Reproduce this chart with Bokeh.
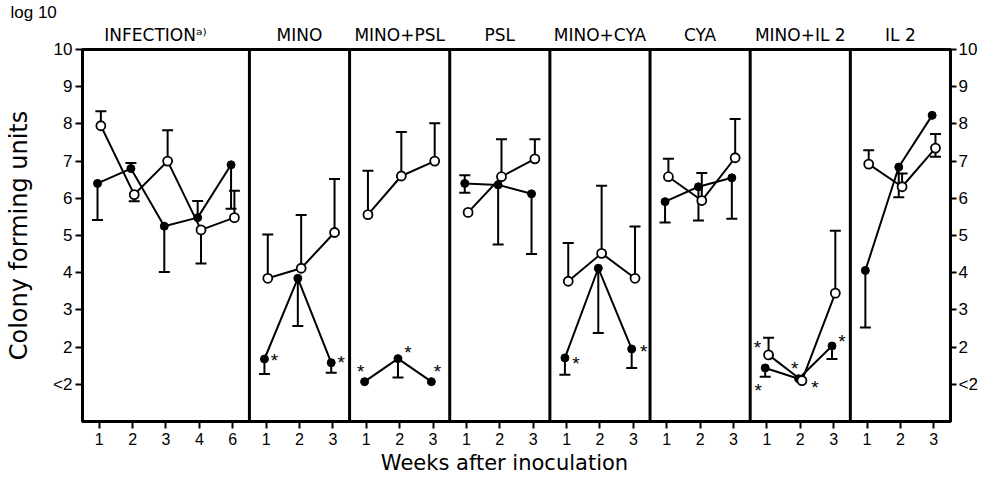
from bokeh.plotting import figure
from bokeh.layouts import column
from bokeh.models import LinearAxis, FixedTicker, Span, Range1d, ColumnDataSource
from bokeh.core.properties import value
from bokeh.embed import file_html
from bokeh.resources import INLINE

# ---------------- data ----------------
panels = ["INFECTION\u1d43\u207e", "MINO", "MINO+PSL", "PSL", "MINO+CYA", "CYA", "MINO+IL 2", "IL 2"]
weeks = [[1, 2, 3, 4, 6], [1, 2, 3], [1, 2, 3], [1, 2, 3], [1, 2, 3], [1, 2, 3], [1, 2, 3], [1, 2, 3]]

filled_mean = [[6.40, 6.80, 5.25, 5.48, 6.90], [1.68, 3.85, 1.58], [1.07, 1.69, 1.07],
               [6.40, 6.36, 6.12], [1.71, 4.12, 1.95], [5.91, 6.31, 6.55],
               [1.44, 1.15, 2.03], [4.06, 6.84, 8.23]]
filled_hi = [[None, 6.95, None, 5.93, None], [None, None, None], [None, None, None],
             [6.62, None, None], [None, None, None], [None, None, None],
             [None, None, None], [None, None, None]]
filled_lo = [[5.42, None, 4.02, None, 5.72], [1.28, 2.57, 1.31], [None, 1.18, None],
             [6.15, 4.76, 4.50], [1.26, 2.38, 1.44], [5.35, 5.40, 5.45],
             [1.20, None, 1.68], [2.53, 6.03, None]]

open_mean = [[7.95, 6.10, 7.00, 5.15, 5.48], [3.85, 4.12, 5.08], [5.56, 6.60, 7.00],
             [5.62, 6.58, 7.06], [3.77, 4.52, 3.85], [6.58, 5.94, 7.09],
             [1.79, 1.10, 3.45], [6.92, 6.31, 7.35]]
open_hi = [[8.34, None, 7.83, None, 6.20], [5.03, 5.55, 6.52], [6.74, 7.78, 8.02],
           [None, 7.59, 7.59], [4.80, 6.34, 5.24], [7.06, 6.68, 8.13],
           [2.25, None, 5.13], [7.29, 6.67, 7.73]]
open_lo = [[None, 5.92, None, 4.25, None], [None, None, None], [None, None, None],
           [None, None, None], [None, None, None], [None, None, None],
           [None, None, None], [None, None, 7.12]]

# significance asterisks: (panel index, week index, series)
star_marks = [(1, 0, "f"), (1, 2, "f"), (2, 0, "f"), (2, 1, "f"), (2, 2, "f"),
              (4, 0, "f"), (4, 2, "f"), (6, 0, "o"), (6, 0, "f"), (6, 1, "f"),
              (6, 1, "o"), (6, 2, "f")]
# screen offsets of each asterisk from its point (style)
star_offsets = [(10, -3), (10, -4), (-4, -14), (10, -10), (6, -14),
                (11, 2), (12, -1), (-11, -11), (-7, 19), (-4, -14),
                (13, 3), (10, -8)]

y_ticks = [1, 2, 3, 4, 5, 6, 7, 8, 9, 10]
y_tick_labels = ["<2", "2", "3", "4", "5", "6", "7", "8", "9", "10"]

y_title = "Colony forming units"
x_title = "Weeks after inoculation"
unit_title = "log 10"

# ---------------- layout ----------------
starts = []
s = 0
for w in weeks:
    starts.append(s)
    s += len(w)
total = s
DODGE = 0.05

TICKFONT = "Liberation Sans"
TEXTFONT = "DejaVu Sans"
W = 994
FL, FR = 82, 44                # frame left / right borders
MAIN_BT, FRAME_H, MAIN_BB = 47, 374, 30
MAIN_H = MAIN_BT + FRAME_H + MAIN_BB
BOT_H = 483 - MAIN_H
FW = W - FL - FR
pxu = FW / total               # pixels per x unit
xr = Range1d(0, total)


def px2x(px):
    return (px - FL) / pxu


# ---- main plot ----
p = figure(width=W, height=MAIN_H, x_range=xr, y_range=Range1d(0, 10),
           output_backend="svg", toolbar_location=None,
           min_border_left=FL, min_border_right=FR, min_border_top=MAIN_BT,
           min_border_bottom=MAIN_BB)
ax = p.below[0]
ay = p.left[0]
p.title.text = unit_title
p.title.align = "left"
p.title.offset = 10 - FL
p.title.standoff = 0
p.title.text_font = TICKFONT
p.title.text_font_size = "17px"
p.title.text_font_style = "normal"
p.title.text_color = "black"
p.xgrid.visible = False
p.ygrid.visible = False
p.outline_line_color = "black"
p.outline_line_width = 3
p.background_fill_color = "white"
p.border_fill_color = "white"

# bottom axis: weeks
xt = []
xl = {}
for st, w in zip(starts, weeks):
    for i, wk in enumerate(w):
        pos = st + i + 0.5
        xt.append(pos)
        xl[pos] = str(wk)
ax.ticker = FixedTicker(ticks=xt)
ax.major_label_overrides = xl
ax.minor_tick_line_color = None
ax.axis_line_width = 3
ax.major_tick_line_width = 2
ax.major_tick_out = 7
ax.major_tick_in = 0
ax.major_label_text_font = TICKFONT
ax.major_label_text_font_size = "16px"
ax.major_label_text_color = "black"
ax.major_label_standoff = 4

# panel titles on a top axis
title_pos = []
for k, (st, w) in enumerate(zip(starts, weeks)):
    if k == 0:
        title_pos.append(px2x(155))
    else:
        title_pos.append(st + len(w) / 2)
ta = LinearAxis(ticker=FixedTicker(ticks=title_pos),
                major_label_overrides={t: n for t, n in zip(title_pos, panels)})
ta.axis_line_color = None
ta.major_tick_line_color = None
ta.minor_tick_line_color = None
ta.major_tick_in = 0
ta.major_tick_out = 0
ta.major_label_standoff = 5
ta.major_label_text_font = TEXTFONT
ta.major_label_text_font_size = "17px"
ta.major_label_text_color = "black"
p.add_layout(ta, "above")

ylab = {t: l for t, l in zip(y_ticks, y_tick_labels)}
ay.ticker = FixedTicker(ticks=y_ticks)
ay.major_label_overrides = ylab
ay.minor_tick_line_color = None
ay.axis_line_width = 3
ay.major_tick_line_width = 2
ay.major_tick_out = 7
ay.major_tick_in = 0
ay.major_label_text_font = TICKFONT
ay.major_label_text_font_size = "17px"
ay.major_label_text_color = "black"
ay.major_label_standoff = 3
ay.axis_label = y_title
ay.axis_label_text_font = TEXTFONT
ay.axis_label_text_font_size = "24px"
ay.axis_label_text_font_style = "normal"
ay.axis_label_text_color = "black"
ay.axis_label_standoff = 17

ar = LinearAxis(ticker=FixedTicker(ticks=y_ticks), major_label_overrides=ylab)
ar.minor_tick_line_color = None
ar.axis_line_width = 3
ar.major_tick_line_width = 2
ar.major_tick_out = 6
ar.major_tick_in = 0
ar.major_label_text_font = TICKFONT
ar.major_label_text_font_size = "17px"
ar.major_label_text_color = "black"
ar.major_label_standoff = 2
p.add_layout(ar, "right")

for st in starts[1:]:
    p.add_layout(Span(location=st, dimension="height", line_color="black", line_width=3))


def draw_series(means, his, los, dodge, filled):
    for st, w, m, hi, lo in zip(starts, weeks, means, his, los):
        xs = [st + i + 0.5 + dodge for i in range(len(w))]
        sx0, sy0, sy1, cx, cy = [], [], [], [], []
        for x, mv, h, l in zip(xs, m, hi, lo):
            for e in (h, l):
                if e is not None:
                    sx0.append(x); sy0.append(mv); sy1.append(e)
                    cx.append(x); cy.append(e)
        if sx0:
            p.segment(x0=sx0, y0=sy0, x1=sx0, y1=sy1, line_color="black", line_width=2)
            p.scatter(x=cx, y=cy, marker="dash", size=11, line_color="black", line_width=2)
        p.line(xs, m, line_color="black", line_width=2)
        if filled:
            p.scatter(xs, m, marker="circle", size=8, fill_color="black", line_color="black")
        else:
            p.scatter(xs, m, marker="circle", size=9, fill_color="white", line_color="black",
                      line_width=1.8)


draw_series(filled_mean, filled_hi, filled_lo, -DODGE, True)
draw_series(open_mean, open_hi, open_lo, DODGE, False)

stx, sty, sdx, sdy = [], [], [], []
for (pi, wi, ser), (dx, dy) in zip(star_marks, star_offsets):
    if ser == "f":
        stx.append(starts[pi] + wi + 0.5 - DODGE); sty.append(filled_mean[pi][wi])
    else:
        stx.append(starts[pi] + wi + 0.5 + DODGE); sty.append(open_mean[pi][wi])
    sdx.append(dx); sdy.append(dy + 4)
src = ColumnDataSource(dict(x=stx, y=sty, dx=sdx, dy=sdy, t=["*"] * len(stx)))
p.text(x="x", y="y", text="t", x_offset="dx", y_offset="dy", source=src,
       text_font=value(TICKFONT), text_font_size="19px", text_align="center",
       text_baseline="middle", text_color="black")

# ---- bottom strip: x title ----
bot = figure(width=W, height=BOT_H, x_range=xr, y_range=Range1d(0, BOT_H),
             output_backend="svg", toolbar_location=None, x_axis_type=None, y_axis_type=None,
             min_border=0, min_border_left=FL, min_border_right=FR)
bot.outline_line_color = None
bot.xgrid.visible = False
bot.ygrid.visible = False
bot.background_fill_color = "white"
bot.border_fill_color = "white"
bot.text(x=[px2x(504)], y=[483 - 462], text=[x_title], text_font=value(TEXTFONT),
         text_font_size="21px", text_align="center", text_baseline="middle", text_color="black")

layout = column(p, bot, spacing=0)
open("out.html", "w").write(file_html(layout, INLINE))
